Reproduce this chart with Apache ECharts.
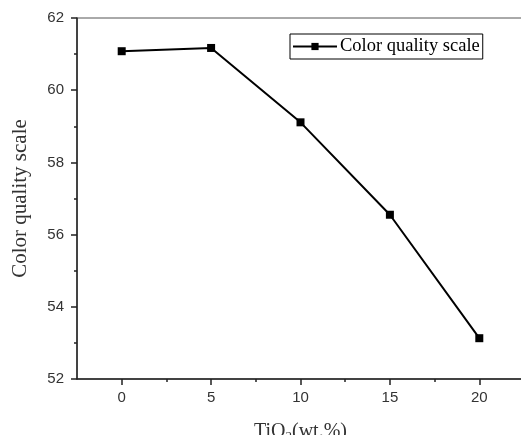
<!DOCTYPE html>
<html>
<head>
<meta charset="utf-8">
<script src="https://cdn.jsdelivr.net/npm/echarts@6/dist/echarts.min.js"></script>
<style>
  html, body { margin: 0; padding: 0; background: #fff; }
  #main { width: 521px; height: 435px; }
</style>
</head>
<body>
<div id="main"></div>
<script>
// TiO2 content (wt.%) and colour quality scale values
const tio2 = [0, 5, 10, 15, 20];
const cqs = [61.08, 61.17, 59.11, 56.55, 53.13];
const xMajorTicks = [0, 5, 10, 15, 20];
const xMinorTicks = [2.5, 7.5, 12.5, 17.5];

var chart = echarts.init(document.getElementById('main'));

var labelStyle = {
  fontFamily: 'Liberation Sans',
  fontSize: 15,
  color: '#333'
};

var option = {
  animation: false,
  backgroundColor: '#fff',
  grid: {
    left: 77,
    top: 18,
    width: 447,
    height: 361,
    outerBoundsMode: 'none',
    containLabel: false,
    show: true,
    borderColor: '#555',
    borderWidth: 1
  },
  legend: {
    show: true,
    left: 290,
    top: 34,
    data: ['Color quality scale'],
    itemWidth: 44,
    itemHeight: 9,
    itemGap: 0,
    padding: [3, 3, 3, 2],
    borderColor: '#000',
    borderWidth: 1,
    textStyle: {
      fontFamily: 'Liberation Serif',
      fontSize: 18.5,
      color: '#000',
      padding: [0, 0, 0, -2]
    }
  },
  xAxis: [
    {
      type: 'value',
      min: -2.5,
      max: 22.5,
      name: '{n|TiO}{s|2}{n|(wt.%)}',
      nameLocation: 'middle',
      nameGap: 42,
      nameTextStyle: {
        rich: {
          n: { fontFamily: 'Liberation Serif', fontSize: 20, color: '#333' },
          s: { fontFamily: 'Liberation Serif', fontSize: 13, color: '#333', verticalAlign: 'bottom', padding: [9, 0, 0, 0] }
        }
      },
      splitLine: { show: false },
      axisLine: { show: true, onZero: false, lineStyle: { color: '#222', width: 1.5 } },
      axisTick: { show: true, customValues: xMajorTicks, length: 6, lineStyle: { color: '#222', width: 1.5 } },
      axisLabel: Object.assign({ customValues: xMajorTicks, margin: 11 }, labelStyle)
    },
    {
      type: 'value',
      min: -2.5,
      max: 22.5,
      position: 'bottom',
      splitLine: { show: false },
      axisLine: { show: false },
      axisTick: { show: true, customValues: xMinorTicks, length: 3, lineStyle: { color: '#222', width: 1.5 } },
      axisLabel: { show: false }
    }
  ],
  yAxis: {
    type: 'value',
    min: 52,
    max: 62,
    interval: 2,
    name: 'Color quality scale',
    nameLocation: 'middle',
    nameGap: 46,
    nameTextStyle: {
      fontFamily: 'Liberation Serif',
      fontSize: 21,
      color: '#333'
    },
    splitLine: { show: false },
    axisLine: { show: true, onZero: false, lineStyle: { color: '#222', width: 1.5 } },
    axisTick: { show: true, length: 6, lineStyle: { color: '#222', width: 1.5 } },
    minorTick: { show: true, splitNumber: 2, length: 3, lineStyle: { color: '#222', width: 1.5 } },
    minorSplitLine: { show: false },
    axisLabel: Object.assign({ margin: 13 }, labelStyle)
  },
  series: [
    {
      name: 'Color quality scale',
      type: 'line',
      data: tio2.map(function (x, i) { return [x, cqs[i]]; }),
      symbol: 'rect',
      symbolSize: 8,
      itemStyle: { color: '#000' },
      lineStyle: { color: '#000', width: 2 }
    }
  ]
};

option && chart.setOption(option);
</script>
</body>
</html>
